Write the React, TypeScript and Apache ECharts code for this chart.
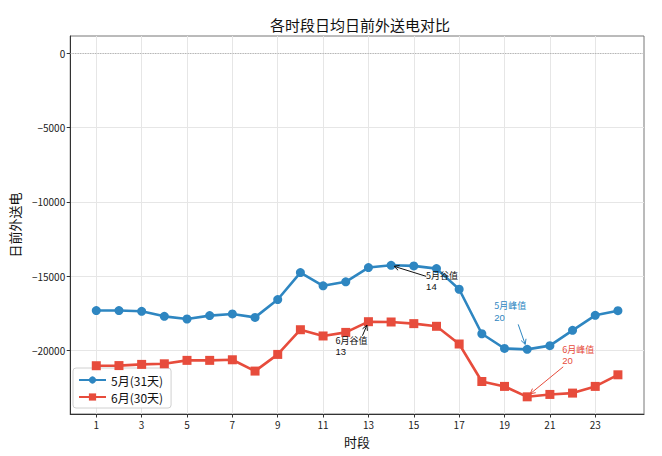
import React, { useEffect, useRef } from "react";
import * as echarts from "echarts";

// Hour-of-day slots
const hours = [1, 2, 3, 4, 5, 6, 7, 8, 9, 10, 11, 12, 13, 14, 15, 16, 17, 18, 19, 20, 21, 22, 23, 24];

// Daily-average day-ahead outbound power per slot
const mayValues = [
  -17300, -17300, -17350, -17690, -17870, -17640, -17530, -17760, -16560, -14750, -15640, -15370,
  -14410, -14260, -14300, -14480, -15870, -18860, -19850, -19910, -19660, -18630, -17620, -17310,
];
const juneValues = [
  -21010, -21000, -20920, -20880, -20650, -20650, -20610, -21370, -20250, -18590, -19010, -18770,
  -18050, -18070, -18180, -18360, -19550, -22070, -22400, -23100, -22940, -22850, -22400, -21620,
];

const seriesNames = ["5月(31天)", "6月(30天)"];
const xTicks = [1, 3, 5, 7, 9, 11, 13, 15, 17, 19, 21, 23];
const yTicks = [-20000, -15000, -10000, -5000, 0];

const BLUE = "#2E86C1";
const RED = "#E74C3C";
const FONT = "'Noto Sans CJK SC', 'Noto Sans', sans-serif";
const DIGIT_FONT = "'Liberation Sans', 'DejaVu Sans', sans-serif";

const argMax = (a: number[]) => a.reduce((b, v, i) => (v > a[b] ? i : b), 0);
const argMin = (a: number[]) => a.reduce((b, v, i) => (v < a[b] ? i : b), 0);

type Note = {
  values: number[];
  idx: number;
  label: string;
  color: string;
  text: [number, number]; // left / first-line middle offset from the point, px
  tail: [number, number]; // arrow tail offset, px
  tip: [number, number]; // arrow tip offset, px
};

function arrowEls(x0: number, y0: number, x1: number, y1: number, color: string) {
  const ang = Math.atan2(y1 - y0, x1 - x0);
  const hl = 5;
  const hw = 2.6;
  const bx = x1 - hl * Math.cos(ang);
  const by = y1 - hl * Math.sin(ang);
  const nx = -Math.sin(ang) * hw;
  const ny = Math.cos(ang) * hw;
  return [
    {
      type: "line",
      silent: true,
      z: 20,
      shape: { x1: x0, y1: y0, x2: x1, y2: y1 },
      style: { stroke: color, lineWidth: 1 },
    },
    {
      type: "polyline",
      silent: true,
      z: 20,
      shape: { points: [[bx + nx, by + ny], [x1, y1], [bx - nx, by - ny]] },
      style: { stroke: color, lineWidth: 1, fill: "none" },
    },
  ];
}

export default function App() {
  const ref = useRef<HTMLDivElement>(null);

  useEffect(() => {
    if (!ref.current) return;
    const chart = echarts.init(ref.current, undefined, { renderer: "svg" });

    const mayData = hours.map((h, i) => [h, mayValues[i]]);
    const juneData = hours.map((h, i) => [h, juneValues[i]]);

    chart.setOption({
      animation: false,
      backgroundColor: "#ffffff",
      textStyle: { fontFamily: FONT },
      title: {
        text: "各时段日均日前外送电对比",
        left: 355,
        textAlign: "center",
        top: 12,
        textStyle: { fontFamily: FONT, fontSize: 15, fontWeight: "normal", color: "#111" },
      },
      grid: {
        left: 67,
        top: 36,
        width: 577,
        height: 378,
        show: true,
        borderColor: "#777",
        borderWidth: 1,
        backgroundColor: "transparent",
      },
      legend: {
        orient: "vertical",
        left: 73,
        top: 368,
        padding: [6, 8, 5, 5],
        itemWidth: 27,
        itemHeight: 9,
        itemGap: 5,
        backgroundColor: "rgba(255,255,255,0.85)",
        borderColor: "#d0d0d0",
        borderWidth: 1,
        borderRadius: 3,
        textStyle: { fontFamily: FONT, fontSize: 12, color: "#111" },
        data: seriesNames,
      },
      xAxis: {
        type: "value",
        min: -0.15,
        max: 25.15,
        name: "时段",
        nameLocation: "middle",
        nameGap: 21,
        nameTextStyle: { fontFamily: FONT, fontSize: 13, color: "#111" },
        axisLine: { show: true, onZero: false, lineStyle: { color: "#333", width: 1 } },
        axisTick: { show: true, length: 3.5, lineStyle: { color: "#333" }, customValues: xTicks },
        axisLabel: {
          customValues: xTicks,
          fontFamily: FONT,
          fontSize: 10,
          color: "#222",
          margin: 5,
        },
        splitLine: { show: true, lineStyle: { color: "#e6e6e6", width: 1 } },
      },
      yAxis: {
        type: "value",
        min: -24255,
        max: 1155,
        name: "日前外送电",
        nameLocation: "middle",
        nameGap: 44,
        nameTextStyle: { fontFamily: FONT, fontSize: 13, color: "#111" },
        axisLine: { show: true, onZero: false, lineStyle: { color: "#333", width: 1 } },
        axisTick: { show: true, length: 3.5, lineStyle: { color: "#333" }, customValues: yTicks },
        axisLabel: {
          customValues: yTicks,
          fontFamily: FONT,
          fontSize: 10,
          color: "#222",
          margin: 5,
          formatter: (v: number) => String(v).replace("-", "\u2212"),
        },
        splitLine: { show: true, lineStyle: { color: "#e6e6e6", width: 1 } },
      },
      series: [
        {
          name: seriesNames[0],
          type: "line",
          data: mayData,
          color: BLUE,
          symbol: "circle",
          symbolSize: 9,
          lineStyle: { width: 2.6, color: BLUE },
          itemStyle: { color: BLUE },
          z: 5,
          markLine: {
            silent: true,
            symbol: "none",
            label: { show: false },
            lineStyle: { color: "#9a9a9a", type: [1, 1.5], width: 0.8 },
            data: [{ yAxis: 0 }],
          },
        },
        {
          name: seriesNames[1],
          type: "line",
          data: juneData,
          color: RED,
          symbol: "rect",
          symbolSize: 9,
          lineStyle: { width: 2.6, color: RED },
          itemStyle: { color: RED },
          z: 4,
        },
      ],
    });

    const notes: Note[] = [
      { values: mayValues, idx: argMax(mayValues), label: "5月谷值", color: "#111", text: [35, 10], tail: [35, 11], tip: [3, 1] },
      { values: juneValues, idx: argMax(juneValues), label: "6月谷值", color: "#111", text: [-33, 18.5], tail: [-6, 14], tip: [-1.5, 3.5] },
      { values: mayValues, idx: argMin(mayValues), label: "5月峰值", color: BLUE, text: [-33, -43.5], tail: [-9, -25], tip: [-2, -5] },
      { values: juneValues, idx: argMin(juneValues), label: "6月峰值", color: RED, text: [35, -47.5], tail: [36, -30], tip: [3, -3] },
    ];

    const graphics: any[] = [];
    notes.forEach((n) => {
      const p = chart.convertToPixel({ gridIndex: 0 }, [hours[n.idx], n.values[n.idx]]) as number[];
      const x = p[0] + n.text[0];
      const y = p[1] + n.text[1];
      graphics.push({
        type: "text",
        silent: true,
        z: 20,
        x,
        y,
        style: { text: n.label, fill: n.color, font: `9px ${FONT}`, textAlign: "left", textVerticalAlign: "middle" },
      });
      graphics.push({
        type: "text",
        silent: true,
        z: 20,
        x,
        y: y + 11.5,
        style: {
          text: String(hours[n.idx]),
          fill: n.color,
          font: `9.5px ${DIGIT_FONT}`,
          textAlign: "left",
          textVerticalAlign: "middle",
        },
      });
      graphics.push(
        ...arrowEls(p[0] + n.tail[0], p[1] + n.tail[1], p[0] + n.tip[0], p[1] + n.tip[1], n.color)
      );
    });
    chart.setOption({ graphic: graphics });

    return () => chart.dispose();
  }, []);

  return (
    <div
      ref={ref}
      style={{ position: "absolute", left: 0, top: 0, width: 662, height: 456, background: "#fff" }}
    />
  );
}
